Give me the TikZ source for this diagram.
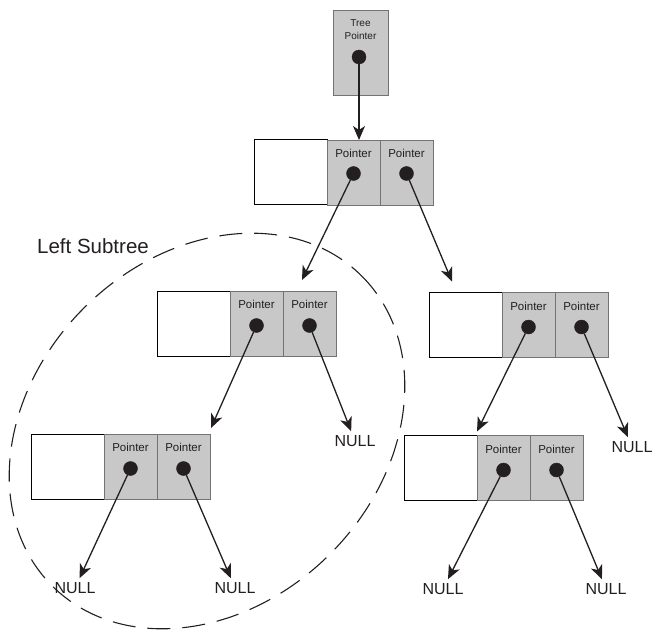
\documentclass[tikz,border=0pt]{standalone}
\usepackage{fontspec}
\setmainfont{Liberation Sans}
\usetikzlibrary{arrows.meta, positioning, calc}
\definecolor{cellgray}{RGB}{200,200,200}
\definecolor{ink}{RGB}{35,31,32}

\begin{document}
\begin{tikzpicture}[
  x=1pt, y=-1pt,
  node distance = 0pt,
  datacell/.style = {
    rectangle, draw=black, line width=1pt, fill=white,
    minimum width=73pt, minimum height=65pt,
    inner sep=0pt, outer sep=0pt
  },
  ptrcell/.style = {
    rectangle, draw=black!55, line width=0.7pt, fill=cellgray,
    minimum width=53pt, minimum height=65pt,
    inner sep=0pt, outer sep=0pt,
    label={[anchor=north, yshift=-6pt, font=\fontsize{11.5}{13}\selectfont, text=ink]90:Pointer}
  },
  dot/.style    = {circle, fill=ink, draw=ink, minimum size=14pt, inner sep=0pt},
  nullnode/.style = {font=\fontsize{16}{18}\selectfont, text=ink, inner sep=4pt},
  arr/.style    = {-{Stealth[length=14pt, width=12pt, inset=4pt]}, line width=1.3pt, ink},
  lbl/.style    = {font=\fontsize{20.5}{22}\selectfont, text=ink}
]
\useasboundingbox (0,0) rectangle (653,631);

%% ---- tree pointer ----
\node[rectangle, draw=black!55, line width=0.7pt, fill=cellgray,
      minimum width=55pt, minimum height=85pt] (tp) at (360.5,52.5) {};
\node[font=\fontsize{10}{13}\selectfont, text=ink, align=center] (tptxt) at (360.5,30) {Tree\\Pointer};
\node[dot] (tpd) at (359,57) {};

%% ---- root ----
\node[datacell] (r0) at (290.5,172.5) {};
\node[ptrcell, right=of r0] (r1) {};
\node[ptrcell, right=of r1] (r2) {};
\node[dot] (r1d) at ([yshift=-1pt]r1.center) {};
\node[dot] (r2d) at ([yshift=-1pt]r2.center) {};

%% ---- left child ----
\node[datacell] (a0) at (193.5,323.5) {};
\node[ptrcell, right=of a0] (a1) {};
\node[ptrcell, right=of a1] (a2) {};
\node[dot] (a1d) at ([yshift=-2pt]a1.center) {};
\node[dot] (a2d) at ([yshift=-2pt]a2.center) {};

%% ---- right child ----
\node[datacell] (b0) at (465.5,325) {};
\node[ptrcell, right=of b0] (b1) {};
\node[ptrcell, right=of b1] (b2) {};
\node[dot] (b1d) at ([yshift=-2pt]b1.center) {};
\node[dot] (b2d) at ([yshift=-2pt]b2.center) {};

%% ---- left-left ----
\node[datacell] (c0) at (67.5,466.5) {};
\node[ptrcell, right=of c0] (c1) {};
\node[ptrcell, right=of c1] (c2) {};
\node[dot] (c1d) at ([yshift=-2pt]c1.center) {};
\node[dot] (c2d) at ([yshift=-2pt]c2.center) {};

%% ---- right-left ----
\node[datacell] (d0) at (440.5,468) {};
\node[ptrcell, right=of d0] (d1) {};
\node[ptrcell, right=of d1] (d2) {};
\node[dot] (d1d) at ([yshift=-2pt]d1.center) {};
\node[dot] (d2d) at ([yshift=-2pt]d2.center) {};

%% ---- NULL ends ----
\node[nullnode] (an) at (355,441) {NULL};
\node[nullnode] (bn) at (632,447) {NULL};
\node[nullnode] (cn1) at (75,588) {NULL};
\node[nullnode] (cn2) at (235,588) {NULL};
\node[nullnode] (dn1) at (443,589) {NULL};
\node[nullnode] (dn2) at (606,589) {NULL};

%% ---- links ----
\draw[arr] (tpd) -- (tpd |- r1.north);
\draw[arr] (r1d) -- ([xshift=19pt, yshift=11pt]a2.north west);
\draw[arr] (r2d) -- ([xshift=23pt, yshift=11pt]b0.north west);
\draw[arr] (a1d) -- ([xshift=1pt, yshift=6pt]c2.north east);
\draw[arr] (a2d) -- (an);
\draw[arr] (b1d) -- ([yshift=4pt]d1.north west);
\draw[arr] (b2d) -- (bn);
\draw[arr] (c1d) -- (cn1);
\draw[arr] (c2d) -- (cn2);
\draw[arr] (d1d) -- (dn1);
\draw[arr] (d2d) -- (dn2);

%% ---- left subtree ----
\coordinate (sub) at (207,431);
\draw[ink, line width=1.1pt, dash pattern=on 23pt off 12pt, rotate around={45:(sub)}]
  (sub) ellipse [x radius=219, y radius=174];
\node[lbl] (subl) at (93,246) {Left Subtree};

\end{tikzpicture}
\end{document}
